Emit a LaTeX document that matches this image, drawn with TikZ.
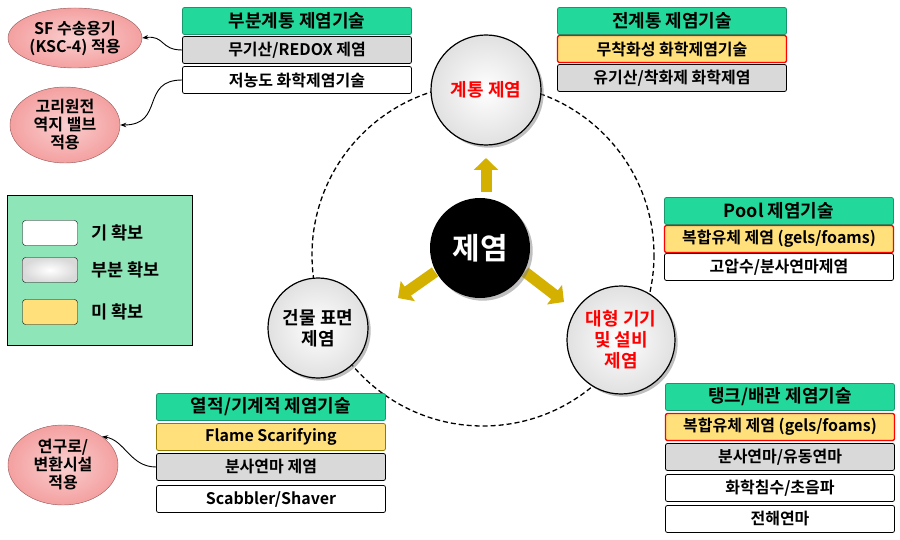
\documentclass[tikz,border=0pt]{standalone}
\usepackage{fontspec}
\setmainfont{Noto Sans CJK KR}[BoldFont={Noto Sans CJK KR Bold}]
\usetikzlibrary{arrows.meta,shapes.geometric,shadows}
\definecolor{hdr}{HTML}{22D89A}
\definecolor{gry}{HTML}{D9D9D9}
\definecolor{ylw}{HTML}{FFE07A}
\definecolor{pnk}{HTML}{F4A0A0}
\definecolor{lg}{HTML}{8EE6B8}
\definecolor{gold}{HTML}{D4B000}
\begin{document}
\begin{tikzpicture}[x=1pt,y=-1pt,font=\bfseries,
 box/.style={draw=black,rounded corners=2pt,line width=0.8pt,minimum width=229pt,minimum height=27pt,inner sep=0pt,font=\bfseries\fontsize{16}{17}\selectfont},
 hd/.style={box,fill=hdr,draw=hdr!70!black,font=\bfseries\fontsize{18}{19}\selectfont},
 wb/.style={box,fill=white},
 gb/.style={box,fill=gry},
 yb/.style={box,fill=ylw},
 rb/.style={box,fill=ylw,draw=red,line width=1.3pt},
 circ/.style={circle,draw=black,line width=1.2pt,inner color=white,outer color=gry!80,font=\bfseries\fontsize{18}{21}\selectfont,align=center,drop shadow},
 ell/.style={ellipse,draw=pnk!60!black,fill=pnk,inner color=pnk!50,outer color=pnk,align=center,font=\bfseries\fontsize{16}{18}\selectfont,inner sep=0pt},
 ya/.style={-{Triangle[length=12pt,width=24pt]},line width=11pt,draw=gold},
 ca/.style={-{Stealth[length=6pt]},line width=0.9pt},
 key/.style={draw=black,rounded corners=3pt,minimum width=55pt,minimum height=25pt,inner sep=0pt},
 lt/.style={anchor=west,font=\bfseries\fontsize{17.5}{19}\selectfont}]
\useasboundingbox (0,0) rectangle (900,540);
\fill[white] (0,0) rectangle (900,540);
\draw[dashed,line width=1.3pt,dash pattern=on 5pt off 3pt] (483,255) circle (171);
% arrows
\draw[ya] (486,192) -- (486,158);
\draw[ya] (435,272) -- (398,298);
\draw[ya] (525,272) -- (564,302);
\node[circle,fill=black,minimum size=100pt,text=white,font=\bfseries\fontsize{30}{32}\selectfont,drop shadow] (c) at (480,248) {제염};
\node[circ,minimum size=110pt,text=red] (t) at (486,90) {계통 제염};
\node[circ,minimum size=100pt] (l) at (318,328) {건물 표면\\제염};
\node[circ,minimum size=108pt,text=red] (r) at (621,340) {대형 기기\\및 설비\\제염};
% top-left
\node[hd] (a0) at (297,21) {부분계통 제염기술};
\node[gb] (a1) at (297,50) {무기산/REDOX 제염};
\node[wb] (a2) at (297,80) {저농도 화학제염기술};
% top-right
\node[hd] (b0) at (672,21) {전계통 제염기술};
\node[rb] (b1) at (672,49) {무착화성 화학제염기술};
\node[gb] (b2) at (672,78) {유기산/착화제 화학제염};
% right mid
\node[hd] (d0) at (779,211) {Pool 제염기술};
\node[rb] (d1) at (779,239) {복합유체 제염 (gels/foams)};
\node[wb] (d2) at (779,267) {고압수/분사연마제염};
% right bottom
\node[hd] (e0) at (780,397) {탱크/배관 제염기술};
\node[rb] (e1) at (780,427) {복합유체 제염 (gels/foams)};
\node[gb] (e2) at (780,457) {분사연마/유동연마};
\node[wb] (e3) at (780,488) {화학침수/초음파};
\node[wb] (e4) at (780,519) {전해연마};
% bottom left
\node[hd] (f0) at (271,407) {열적/기계적 제염기술};
\node[yb,draw=gold!70!black] (f1) at (271,437) {Flame Scarifying};
\node[gb] (f2) at (271,467) {분사연마 제염};
\node[wb] (f3) at (271,499) {Scabbler/Shaver};
% ellipses
\node[ell,minimum width=134pt,minimum height=60pt] (p1) at (75,38) {SF 수송용기\\(KSC-4) 적용};
\node[ell,minimum width=110pt,minimum height=76pt] (p2) at (65,125) {고리원전\\역지 밸브\\적용};
\node[ell,minimum width=110pt,minimum height=80pt] (p3) at (63,465) {연구로/\\변환시설\\적용};
\draw[ca] (a1.west) .. controls (160,50) and (165,35) .. (p1.east);
\draw[ca] (a2.west) .. controls (140,80) and (165,125) .. (p2.east);
\draw[ca] (f2.west) .. controls (130,467) and (125,440) .. (p3.north east);
% legend
\node[draw=black,fill=lg,minimum width=185pt,minimum height=150pt,inner sep=0pt] (lgd) at (100,270) {};
\node[key,fill=white] (k1) at (50,233) {};
\node[key,inner color=white,outer color=gry] (k2) at (50,270) {};
\node[key,fill=ylw] (k3) at (50,312) {};
\node[lt] (t1) at (88,233) {기 확보};
\node[lt] (t2) at (88,270) {부분 확보};
\node[lt] (t3) at (88,312) {미 확보};
\end{tikzpicture}
\end{document}
